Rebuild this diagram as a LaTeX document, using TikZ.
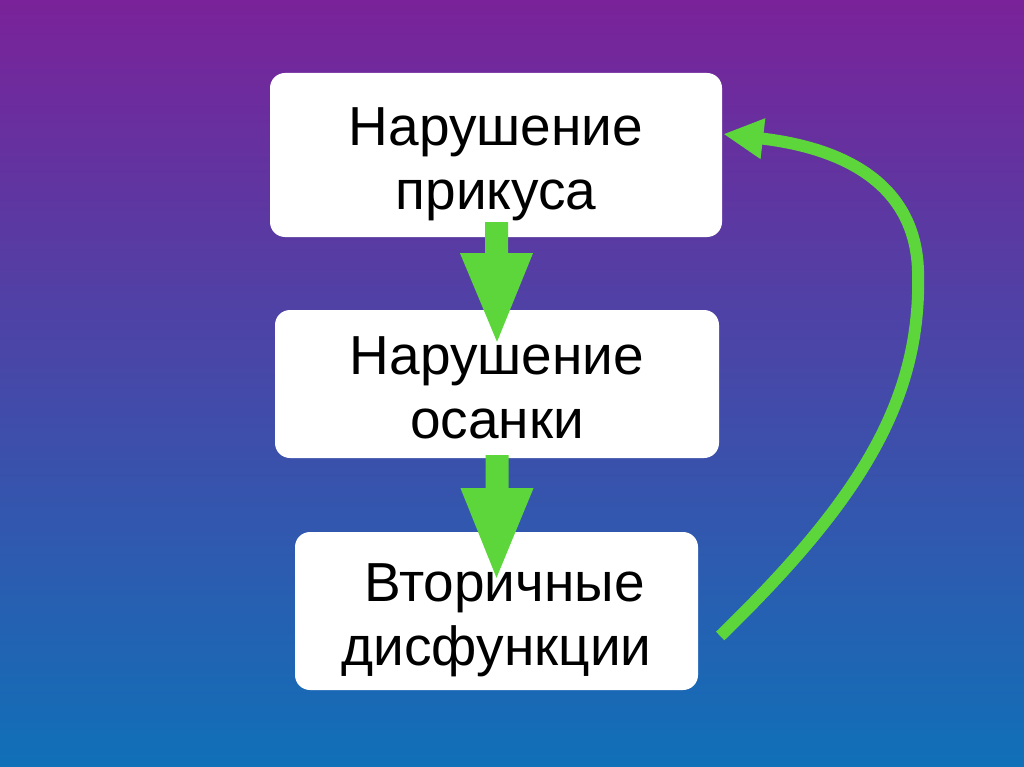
\documentclass[tikz,border=0pt]{standalone}
\usepackage{fontspec}
\setmainfont{Liberation Sans}
\usetikzlibrary{arrows.meta,calc}
\definecolor{bgtop}{HTML}{7A2299}
\definecolor{bgmid}{HTML}{5A4DA8}
\definecolor{bgbot}{HTML}{1070B8}
\definecolor{grn}{HTML}{5CD63A}
\newcommand\blockarr[3]{%
  \fill[grn] ($(#1)+(-11.5pt,0)$) -- ($(#2)+(-11.5pt,0)$) -- ($(#2)+(-36.5pt,0)$) -- (#3)
    -- ($(#2)+(36.5pt,0)$) -- ($(#2)+(11.5pt,0)$) -- ($(#1)+(11.5pt,0)$) -- cycle;}
\begin{document}
\begin{tikzpicture}[x=1pt,y=-1pt,
  box/.style={fill=white, rounded corners=15pt, inner sep=0pt},
  txt/.style={inner sep=0pt, align=center, font=\fontsize{55}{64}\selectfont}]
\shade[top color=bgtop, middle color=bgmid, bottom color=bgbot] (0,0) rectangle (1024,767);
\useasboundingbox (0,0) rectangle (1024,767);
\node[box, minimum width=452pt, minimum height=164pt] (b1) at (496,155) {};
\node[box, minimum width=444pt, minimum height=148pt] (b2) at (497,384) {};
\node[box, minimum width=403pt, minimum height=158pt] (b3) at (496.5,611) {};
\node[txt] (t1) at ($(b1.center)+(0,-9pt)$) {Нарушение\\прикуса};
\node[txt] (t2) at ($(b2.center)+(0,-4pt)$) {Нарушение\\осанки};
\node[txt] (t3) at ($(b3.center)+(0,-9pt)$) {\hspace*{16pt}Вторичные\\дисфункции};
% block arrows
\coordinate (a1top) at ($(b1.south)+(0.5pt,15pt)$);
\coordinate (a1base) at ($(b1.south)+(0.5pt,-16pt)$);
\coordinate (a1tip) at ($(b2.north)+(0pt,-32pt)$);
\blockarr{a1top}{a1base}{a1tip}
\coordinate (a2top) at ($(b2.south)+(0pt,3pt)$);
\coordinate (a2base) at ($(b2.south)+(0pt,-30pt)$);
\coordinate (a2tip) at ($(b3.north)+(0pt,-46pt)$);
\blockarr{a2top}{a2base}{a2tip}
% curved feedback arrow
\coordinate (cs) at ($(b3.east)+(22pt,-25pt)$);
\coordinate (ce) at ($(b1.east)+(1pt,21pt)$);
\draw[grn, line width=12pt, -{Triangle[length=40pt,width=38pt]}]
  (cs) .. controls (860,500) and (922,400) .. (918,271)
       .. controls (916,195) and (860,150) .. (ce);
\end{tikzpicture}
\end{document}
